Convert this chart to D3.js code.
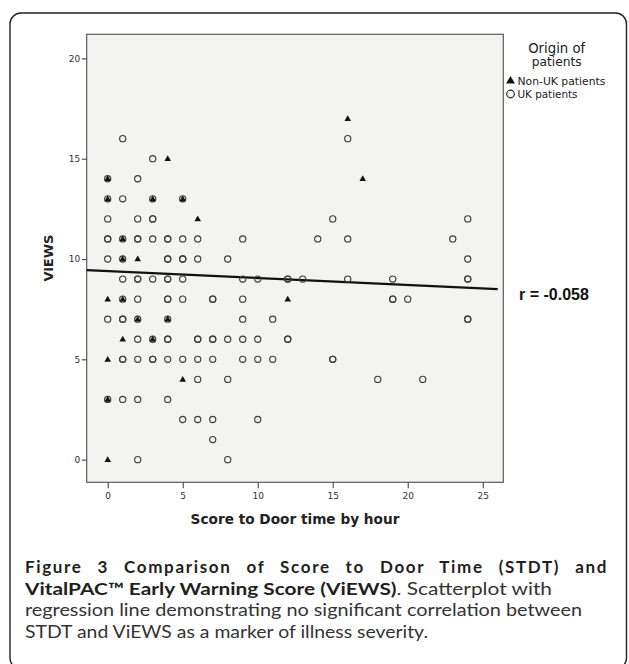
<!DOCTYPE html>
<html>
<head>
<meta charset="utf-8">
<script src="https://cdn.jsdelivr.net/npm/d3@7"></script>
<style>
  body { margin: 0; background: #fff; }
  svg { display: block; }
  .tick-label { font-family: "DejaVu Sans", sans-serif; font-size: 9px; fill: #333; }
  .axis-title { font-family: "DejaVu Sans", sans-serif; font-weight: bold; font-size: 12px; fill: #222; }
  .legend-text { font-family: "DejaVu Sans", sans-serif; font-size: 10px; fill: #222; }
  .caption { font-family: Lato, "Open Sans", sans-serif; font-size: 17px; fill: #231f20; }
</style>
</head>
<body>
<svg id="chart" width="629" height="664"></svg>
<script>
// points, [hours, ViEWS]; repeated pairs are overplotted points
var ukPatients = [
  [1,16],[16,16],[3,15],[0,14],[2,14],[0,13],[1,13],[3,13],[5,13],
  [0,12],[2,12],[3,12],[3,12],[15,12],[24,12],
  [0,11],[0,11],[1,11],[2,11],[2,11],[3,11],[4,11],[4,11],[5,11],[6,11],[9,11],[14,11],[16,11],[23,11],
  [0,10],[1,10],[4,10],[4,10],[5,10],[5,10],[6,10],[8,10],[24,10],
  [1,9],[2,9],[2,9],[3,9],[4,9],[4,9],[5,9],[9,9],[10,9],[12,9],[12,9],[13,9],[16,9],[19,9],[24,9],[24,9],
  [1,8],[2,8],[4,8],[4,8],[5,8],[7,8],[7,8],[9,8],[19,8],[19,8],[20,8],
  [0,7],[1,7],[1,7],[2,7],[4,7],[9,7],[11,7],[24,7],[24,7],
  [2,6],[3,6],[4,6],[4,6],[6,6],[6,6],[7,6],[7,6],[8,6],[9,6],[10,6],[12,6],[12,6],
  [1,5],[1,5],[2,5],[3,5],[3,5],[4,5],[5,5],[6,5],[7,5],[9,5],[10,5],[11,5],[15,5],[15,5],
  [6,4],[8,4],[18,4],[21,4],
  [0,3],[1,3],[2,3],[4,3],
  [5,2],[6,2],[7,2],[10,2],
  [7,1],
  [2,0],[8,0]
];
var nonUkPatients = [
  [16,17],[4,15],[17,14],[0,14],[0,13],[3,13],[5,13],[6,12],[1,11],[1,10],[2,10],
  [0,8],[1,8],[12,8],[2,7],[4,7],[1,6],[3,6],[0,5],[5,4],[0,3],[0,0]
];
var xTicks = [0, 5, 10, 15, 20, 25];
var yTicks = [0, 5, 10, 15, 20];
var fitLine = { intercept: 9.40, slope: -0.0347, from: -1.4, to: 26.0 };
var rLabel = 'r = -0.058';
var legendTitle = ['Origin of', 'patients'];
var legendItems = ['Non-UK patients', 'UK patients'];
var captionLines = [
  [{t: 'Figure 3 Comparison of Score to Door Time (STDT) and', b: true}],
  [{t: 'VitalPAC\u2122 Early Warning Score (ViEWS)', b: true}, {t: '. Scatterplot with', b: false}],
  [{t: 'regression line demonstrating no significant correlation between', b: false}],
  [{t: 'STDT and ViEWS as a marker of illness severity.', b: false}]
];

var svg = d3.select('#chart');

// outer rounded frame
svg.append('rect')
  .attr('x', 10).attr('y', 13).attr('width', 616.5).attr('height', 656)
  .attr('rx', 11).attr('fill', 'none').attr('stroke', '#222').attr('stroke-width', 1.4);

var plot = { left: 86.7, top: 34.3, right: 503.3, bottom: 482.3 };

var x = d3.scaleLinear().domain([-1.4, 26.37]).range([plot.left, plot.right]);
var y = d3.scaleLinear().domain([-1.13, 21.2]).range([plot.bottom, plot.top]);

svg.append('rect')
  .attr('x', plot.left).attr('y', plot.top)
  .attr('width', plot.right - plot.left).attr('height', plot.bottom - plot.top)
  .attr('fill', '#f3f3f2').attr('stroke', '#5a5a5a').attr('stroke-width', 1.2);

function fitWidth(sel, target){
  var w = sel.node().getComputedTextLength();
  var fs = parseFloat(window.getComputedStyle(sel.node()).fontSize);
  if (w > 0) sel.style('font-size', (fs * target / w) + 'px');
  return sel;
}

// axes
var xAxis = svg.append('g').attr('transform', 'translate(0,' + plot.bottom + ')')
  .call(d3.axisBottom(x).tickValues(xTicks).tickSize(6).tickPadding(4));
var yAxis = svg.append('g').attr('transform', 'translate(' + plot.left + ',0)')
  .call(d3.axisLeft(y).tickValues(yTicks).tickSize(5).tickPadding(1.5));
[xAxis, yAxis].forEach(function(a){
  a.select('.domain').remove();
  a.attr('font-family', null).attr('font-size', null);
  a.selectAll('line').attr('stroke', '#444').attr('stroke-width', 1.1);
  a.selectAll('text').attr('class', 'tick-label').attr('fill', null);
});

svg.append('text').attr('class', 'axis-title')
  .attr('x', (plot.left + plot.right) / 2).attr('y', 524).attr('text-anchor', 'middle')
  .text('Score to Door time by hour').call(fitWidth, 209);

svg.append('text').attr('class', 'axis-title')
  .attr('transform', 'translate(53,258) rotate(-90)').attr('text-anchor', 'middle')
  .text('ViEWS').call(fitWidth, 47);

// regression line
var line = d3.line().x(function(d){ return x(d); })
  .y(function(d){ return y(fitLine.intercept + fitLine.slope * d); });
svg.append('path').datum([fitLine.from, fitLine.to])
  .attr('d', line).attr('fill', 'none').attr('stroke', '#111').attr('stroke-width', 2.3);

// points
var tri = d3.symbol().type(d3.symbolTriangle).size(19);
svg.append('g').selectAll('circle').data(ukPatients).enter().append('circle')
  .attr('cx', function(d){ return x(d[0]); })
  .attr('cy', function(d){ return y(d[1]); })
  .attr('r', 3.1)
  .attr('fill', 'none').attr('stroke', '#3c3c3c').attr('stroke-width', 1.15);
svg.append('g').selectAll('path').data(nonUkPatients).enter().append('path')
  .attr('d', tri)
  .attr('transform', function(d){ return 'translate(' + x(d[0]) + ',' + (y(d[1]) + 0.4) + ')'; })
  .attr('fill', '#111');

svg.append('text')
  .attr('x', 519).attr('y', 299.5)
  .style('font-family', '"Liberation Sans", Arial, sans-serif').style('font-weight', 'bold').style('font-size', '14px')
  .attr('fill', '#111').text(rLabel).call(fitWidth, 70);

// legend
legendTitle.forEach(function(t, i){
  svg.append('text').attr('class', 'legend-text')
    .attr('x', 556.7).attr('y', 53 + i * 12.8).attr('text-anchor', 'middle')
    .style('font-size', '12px').text(t).call(fitWidth, i === 0 ? 57 : 50);
});
var lg = svg.append('g');
lg.append('path').attr('d', d3.symbol().type(d3.symbolTriangle).size(34))
  .attr('transform', 'translate(510.5,81)').attr('fill', '#111');
lg.append('circle').attr('cx', 510.5).attr('cy', 94).attr('r', 3.8)
  .attr('fill', 'none').attr('stroke', '#222').attr('stroke-width', 1.2);
legendItems.forEach(function(t, i){
  lg.append('text').attr('class', 'legend-text')
    .attr('x', 517.5).attr('y', 85 + i * 12.7).text(t).call(fitWidth, i === 0 ? 88 : 60);
});

// caption: first line justified (extra room shared by letters and word gaps), the rest fitted
var capBase = [573, 594.5, 616, 637.5];
var capWidth = [583, 527, 557, 403];
captionLines.forEach(function(parts, i){
  var t = svg.append('text').attr('class', 'caption').attr('x', 25).attr('y', capBase[i]);
  parts.forEach(function(p){
    t.append('tspan').style('font-weight', p.b ? 'bold' : 'normal')
      .attr('fill', p.b ? '#231f20' : '#333').text(p.t);
  });
  var w = t.node().getComputedTextLength();
  if (i === 0 && w < capWidth[i]) {
    var txt = parts[0].t;
    var gaps = txt.split(' ').length - 1;
    var extra = capWidth[i] - w;
    var ls = extra * 0.5 / (txt.length - 1);
    t.style('letter-spacing', ls + 'px');
    var w2 = t.node().getComputedTextLength();
    t.style('word-spacing', ((capWidth[i] - w2) / gaps) + 'px');
  } else {
    t.attr('textLength', capWidth[i]).attr('lengthAdjust', 'spacingAndGlyphs');
  }
});
</script>
</body>
</html>
